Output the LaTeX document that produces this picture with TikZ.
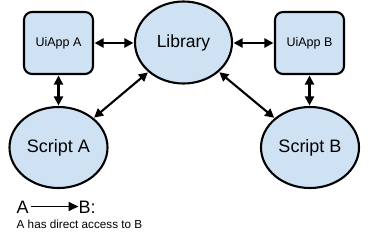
\documentclass[tikz,border=0pt]{standalone}
\usepackage{fontspec}
\setmainfont{Liberation Sans}
\usetikzlibrary{arrows.meta,shapes.geometric}
\definecolor{fillblue}{HTML}{CFE2F3}
\begin{document}
\begin{tikzpicture}[x=1pt,y=-1pt,
  ell/.style={ellipse,draw=black,line width=2.1pt,fill=fillblue,minimum width=98pt,minimum height=81pt,inner sep=0pt,font=\fontsize{18}{21}\selectfont},
  box/.style={rectangle,rounded corners=8pt,draw=black,line width=2.1pt,fill=fillblue,minimum width=69pt,minimum height=62pt,inner sep=0pt,font=\fontsize{12.5}{15}\selectfont},
  link/.style={line width=2.1pt,{Triangle[length=9pt,width=9pt]}-{Triangle[length=9pt,width=9pt]},shorten <=0.5pt,shorten >=0.5pt},
  tip/.style={line width=1.8pt,-{Triangle[length=10pt,width=9pt]}}]
\useasboundingbox (0,0) rectangle (369,239);
\node[ell,minimum width=97pt,minimum height=82pt,font=\fontsize{17.5}{21}\selectfont] (lib) at (183.5,42.5) {Library};
\node[box] (ua) at (58.5,43) {UiApp A};
\node[box] (ub) at (309.5,43) {UiApp B};
\node[ell] (sa) at (58.5,147.5) {Script A};
\node[ell] (sb) at (310,147.5) {Script B};
\draw[link] (ua) -- (ua -| lib.west);
\draw[link] (lib.east |- ub) -- (ub);
\draw[link] (ua) -- (sa);
\draw[link] (ub.south) -- (ub.south |- sb.north);
\draw[link] (lib) -- (sa);
\draw[link] (lib) -- (sb);
\node[anchor=base west,inner sep=0pt,font=\fontsize{18}{21}\selectfont] (la) at (16.5,213) {A};
\node[anchor=base west,inner sep=0pt,font=\fontsize{18}{21}\selectfont] (lb) at (78.5,213) {B:};
\coordinate (s) at (31,206.5);
\draw[tip] (s) -- (lb.west |- s);
\node[anchor=base west,inner sep=0pt,font=\fontsize{11.7}{14}\selectfont] (txt) at (16.5,228.5) {A has direct access to B};
\end{tikzpicture}
\end{document}
